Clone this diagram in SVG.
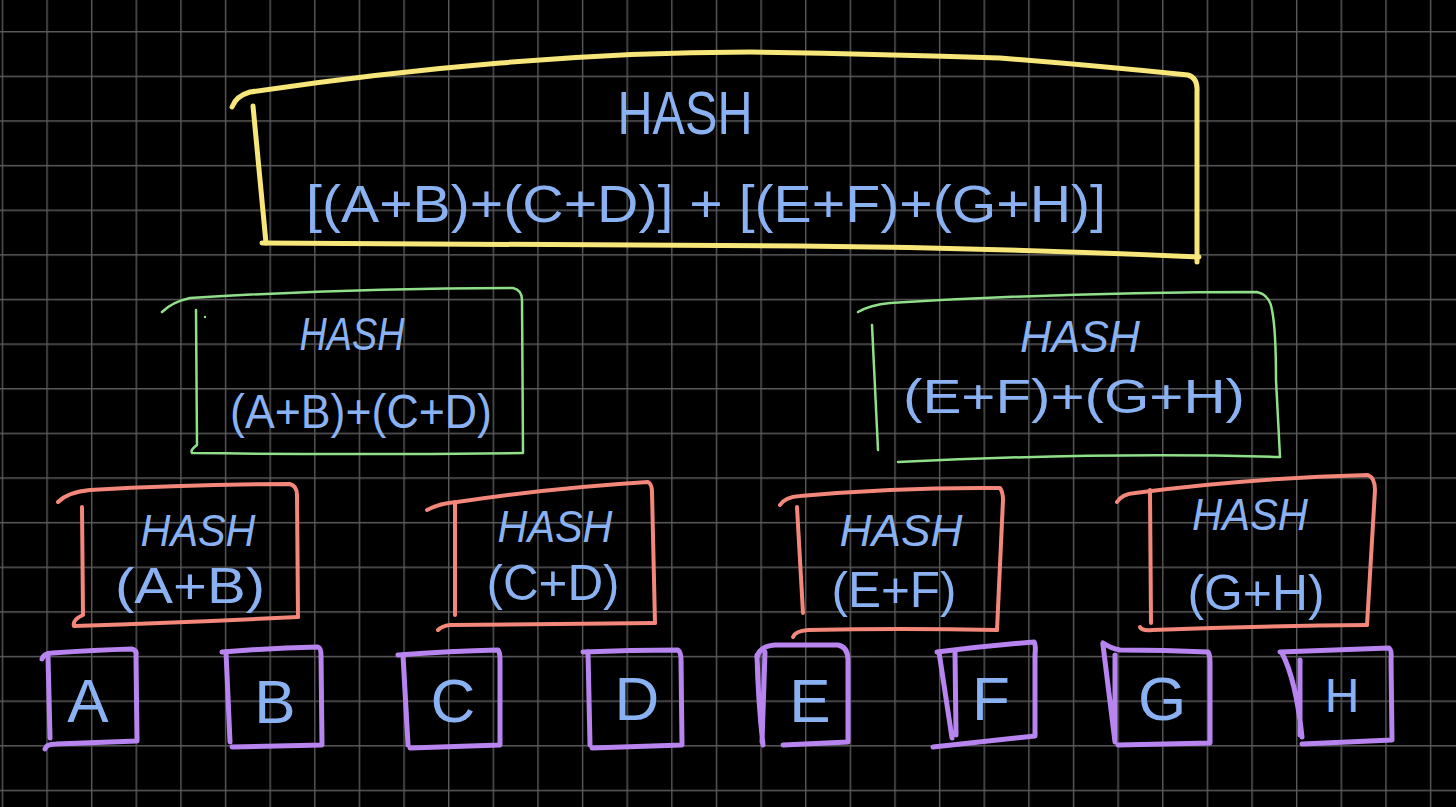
<svg xmlns="http://www.w3.org/2000/svg" width="1456" height="807" viewBox="0 0 1456 807">
<defs>
<pattern id="grid" patternUnits="userSpaceOnUse" x="1.7" y="31" width="44.63" height="44.63">
<path d="M0.7,0 V44.63 M0,0.7 H44.63" stroke="#5a5a5a" stroke-width="1.4" fill="none"/>
</pattern>
</defs>
<style>
.y{fill:none;stroke:#f7e67a;stroke-width:5;stroke-linecap:round;stroke-linejoin:round}
.g{fill:none;stroke:#8fe089;stroke-width:2.5;stroke-linecap:round;stroke-linejoin:round}
.s{fill:none;stroke:#f2877a;stroke-width:4;stroke-linecap:round;stroke-linejoin:round}
.p{fill:none;stroke:#b784f0;stroke-width:5;stroke-linecap:round;stroke-linejoin:round}
text{font-family:"Liberation Sans",Arial,sans-serif;fill:#8ab2f2;text-anchor:middle}
.h{font-style:italic}
</style>
<rect width="1456" height="807" fill="#000"/>
<rect width="1456" height="807" fill="url(#grid)"/>

<g id="root">
<path class="y" d="M232,107 Q236,96 250,92 Q380,73 500,63 Q630,52 750,52 Q880,54 1000,58 Q1100,66 1188,75 Q1198,78 1197,92 L1197,262"/>
<path class="y" d="M253,106 L266,243"/>
<path class="y" d="M262,243 Q600,244 800,246 Q1000,248 1199,257"/>
<text x="685" y="134" font-size="62" textLength="135" lengthAdjust="spacingAndGlyphs">HASH</text>
<text x="706" y="222" font-size="52" textLength="800" lengthAdjust="spacingAndGlyphs">[(A+B)+(C+D)] + [(E+F)+(G+H)]</text>
</g>

<g id="hash-abcd">
<path class="g" d="M162,312 Q172,302 190,298 Q350,288 513,288 Q522,290 522,300 L523,452"/>
<path class="g" d="M196,310 L197,445 Q190,450 192,453 Q350,455 523,453"/>
<circle cx="205" cy="317" r="1.2" fill="#8fe089"/>
<text class="h" x="352" y="350" font-size="46" textLength="105" lengthAdjust="spacingAndGlyphs">HASH</text>
<text x="361" y="428" font-size="48" textLength="262" lengthAdjust="spacingAndGlyphs">(A+B)+(C+D)</text>
</g>

<g id="hash-efgh">
<path class="g" d="M858,312 Q870,305 890,303 Q1070,292 1257,292 Q1270,295 1272,310 Q1276,330 1276,380 L1280,457"/>
<path class="g" d="M872,325 L878,450"/>
<path class="g" d="M898,462 Q1100,452 1280,457"/>
<text class="h" x="1080" y="352" font-size="44" textLength="120" lengthAdjust="spacingAndGlyphs">HASH</text>
<text x="1074" y="413" font-size="48" textLength="342" lengthAdjust="spacingAndGlyphs">(E+F)+(G+H)</text>
</g>

<g id="hash-ab">
<path class="s" d="M58,502 Q68,492 90,490 Q190,484 290,484 Q297,486 297,495 L298,617"/>
<path class="s" d="M82,507 L83,615 Q72,620 74,626 Q190,622 298,617"/>
<text class="h" x="198" y="546" font-size="44" textLength="115" lengthAdjust="spacingAndGlyphs">HASH</text>
<text x="190" y="603" font-size="50" textLength="150" lengthAdjust="spacingAndGlyphs">(A+B)</text>
</g>

<g id="hash-cd">
<path class="s" d="M427,510 Q440,503 457,502 Q550,488 648,482 Q652,484 652,492 L655,623"/>
<path class="s" d="M455,502 L455,615"/>
<path class="s" d="M438,630 Q442,626 450,625 Q550,624 655,623"/>
<text class="h" x="555" y="542" font-size="44" textLength="115" lengthAdjust="spacingAndGlyphs">HASH</text>
<text x="553" y="600" font-size="50" textLength="133" lengthAdjust="spacingAndGlyphs">(C+D)</text>
</g>

<g id="hash-ef">
<path class="s" d="M780,505 Q785,497 800,496 Q900,487 1000,488 Q1003,492 1003,500 L997,630"/>
<path class="s" d="M797,507 L803,613"/>
<path class="s" d="M793,637 Q795,631 808,630 Q900,628 997,630"/>
<text class="h" x="901" y="546" font-size="44" textLength="123" lengthAdjust="spacingAndGlyphs">HASH</text>
<text x="894" y="607" font-size="50" textLength="125" lengthAdjust="spacingAndGlyphs">(E+F)</text>
</g>

<g id="hash-gh">
<path class="s" d="M1117,502 Q1122,494 1135,493 Q1250,478 1368,475 Q1375,478 1375,490 L1367,625"/>
<path class="s" d="M1150,490 L1151,623"/>
<path class="s" d="M1140,627 Q1142,631 1152,630 Q1260,626 1367,625"/>
<text class="h" x="1250" y="530" font-size="44" textLength="116" lengthAdjust="spacingAndGlyphs">HASH</text>
<text x="1256" y="610" font-size="50" textLength="137" lengthAdjust="spacingAndGlyphs">(G+H)</text>
</g>

<g id="leaf-a">
<path class="p" d="M42,659 Q44,653 52,653 Q95,650 132,649 Q137,650 136,656 L137,741 L56,744 Q46,744 45,749"/>
<path class="p" d="M48,656 L50,738"/>
<text x="88" y="722" font-size="62">A</text>
</g>
<g id="leaf-b">
<path class="p" d="M222,652 Q270,648 318,647 Q321,648 321,655 L322,745 L232,747"/>
<path class="p" d="M226,652 L230,742"/>
<text x="275" y="723" font-size="62">B</text>
</g>
<g id="leaf-c">
<path class="p" d="M398,655 Q450,651 498,650 Q500,652 500,660 L500,745 L410,748"/>
<path class="p" d="M403,655 L408,745"/>
<text x="453" y="722" font-size="62">C</text>
</g>
<g id="leaf-d">
<path class="p" d="M583,652 Q630,650 678,650 Q681,652 681,660 L682,745 L592,748"/>
<path class="p" d="M588,652 L590,745"/>
<text x="637" y="720" font-size="62">D</text>
</g>
<g id="leaf-e">
<path class="p" d="M757,657 Q760,646 775,645 L838,645 Q848,647 848,660 L848,742 L783,745"/>
<path class="p" d="M757,655 Q758,700 763,745 M765,652 L762,742"/>
<text x="810" y="722" font-size="62">E</text>
</g>
<g id="leaf-f">
<path class="p" d="M937,652 Q985,646 1034,642 Q1036,645 1035,655 L1035,736 L933,747"/>
<path class="p" d="M939,652 L952,738 M955,652 L956,735"/>
<text x="991" y="720" font-size="62">F</text>
</g>
<g id="leaf-g">
<path class="p" d="M1103,643 Q1110,648 1120,650 Q1165,650 1208,652 Q1210,655 1210,662 L1210,743 L1118,745"/>
<path class="p" d="M1103,645 L1115,742 M1115,655 L1115,740"/>
<text x="1162" y="720" font-size="62">G</text>
</g>
<g id="leaf-h">
<path class="p" d="M1280,652 Q1335,650 1389,648 Q1392,650 1391,660 L1392,740 L1302,744"/>
<path class="p" d="M1282,653 Q1296,680 1302,737 M1300,660 L1300,735"/>
<text x="1342" y="712" font-size="48">H</text>
</g>
<g id="connectors"></g>
</svg>
